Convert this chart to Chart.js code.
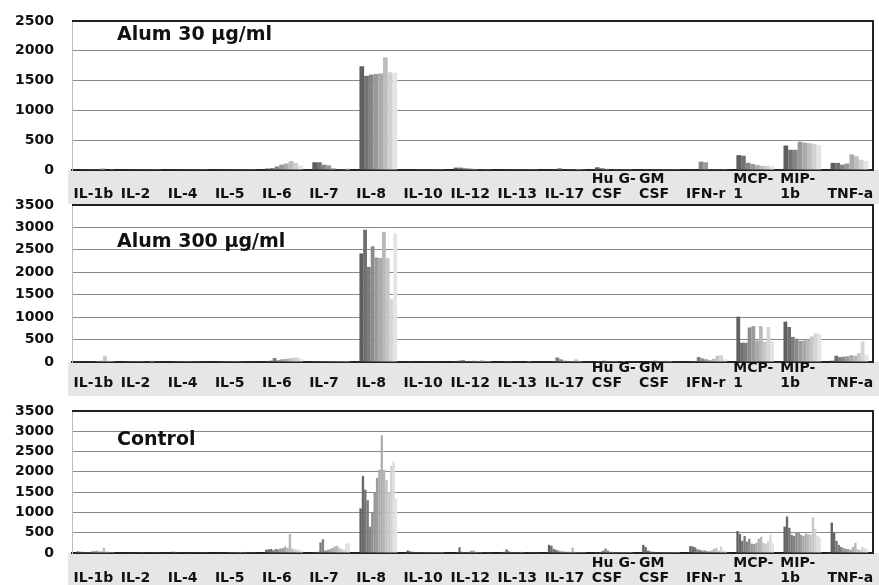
<!DOCTYPE html>
<html>
<head>
<meta charset="utf-8">
<script src="https://cdn.jsdelivr.net/npm/chart.js@4.4.1/dist/chart.umd.min.js"></script>
<style>
body { margin: 0; background: #fff; width: 879px; height: 585px; overflow: hidden; position: relative; }
canvas { position: absolute; left: 0; }
.title { position: absolute; left: 117px; font: bold 19px "DejaVu Sans"; line-height: 22px; color: #111; z-index: 5; }
</style>
</head>
<body>
<canvas id="c1" width="879" height="204" style="top:0px"></canvas>
<canvas id="c2" width="879" height="206" style="top:190px"></canvas>
<canvas id="c3" width="879" height="189" style="top:396px"></canvas>
<div class="title" style="top:22px">Alum 30 µg/ml</div>
<div class="title" style="top:229px">Alum 300 µg/ml</div>
<div class="title" style="top:427px">Control</div>
<script>
// cytokine names, split in two lines like the original axis
const tickLabels = [
    ['', 'IL-1b'], ['', 'IL-2'], ['', 'IL-4'], ['', 'IL-5'], ['', 'IL-6'], ['', 'IL-7'],
    ['', 'IL-8'], ['', 'IL-10'], ['', 'IL-12'], ['', 'IL-13'], ['', 'IL-17'],
    ['Hu G-', 'CSF'], ['GM', 'CSF'], ['', 'IFN-r'], ['MCP-', '1'], ['MIP-', '1b'], ['', 'TNF-a']
];

const yMax30 = 2500;
const yMax300 = 3500;
const yMaxControl = 3500;

// one row per cytokine, one value per sample
const alum30 = [
    [8, 5, 5, 5, 5, 30, 8, 5],
    [5, 5, 5, 5, 5, 5, 5, 5],
    [5, 5, 5, 5, 5, 5, 5, 5],
    [5, 5, 5, 5, 5, 5, 5, 5],
    [25, 30, 60, 90, 110, 150, 120, 70],
    [130, 130, 90, 80, 30, 10, 5, 30],
    [1740, 1580, 1600, 1610, 1620, 1890, 1640, 1630],
    [10, 8, 5, 5, 5, 5, 5, 5],
    [40, 40, 30, 25, 20, 10, 5, 5],
    [5, 5, 5, 5, 5, 5, 5, 5],
    [10, 5, 30, 10, 5, 5, 20, 5],
    [45, 30, 20, 10, 5, 5, 5, 5],
    [5, 5, 5, 5, 5, 5, 5, 5],
    [5, 10, 140, 130, 5, 5, 5, 5],
    [250, 240, 120, 100, 80, 70, 70, 60],
    [410, 340, 340, 475, 460, 450, 440, 420],
    [120, 120, 90, 110, 260, 230, 170, 150]
];

const alum300 = [
    [20, 10, 10, 10, 10, 20, 30, 130, 30, 20],
    [20, 20, 20, 20, 20, 15, 10, 30, 10, 10],
    [20, 20, 20, 20, 20, 20, 15, 15, 10, 10],
    [20, 20, 20, 20, 20, 20, 15, 10, 10, 10],
    [20, 30, 90, 40, 60, 70, 80, 90, 100, 70],
    [20, 20, 20, 20, 20, 20, 20, 20, 20, 20],
    [2420, 2950, 2120, 2580, 2330, 2320, 2900, 2320, 1400, 2870],
    [20, 15, 10, 10, 10, 10, 10, 10, 10, 10],
    [20, 30, 40, 20, 20, 30, 20, 40, 20, 20],
    [10, 20, 20, 10, 10, 10, 10, 20, 10, 10],
    [10, 20, 100, 60, 30, 20, 20, 60, 20, 10],
    [20, 20, 30, 20, 20, 20, 10, 20, 10, 10],
    [10, 10, 20, 30, 20, 20, 30, 20, 10, 10],
    [20, 20, 110, 80, 60, 40, 70, 140, 150, 60],
    [1010, 430, 430, 770, 800, 480, 800, 450, 780, 470],
    [900, 780, 560, 520, 470, 480, 500, 570, 640, 620],
    [30, 140, 110, 120, 130, 150, 140, 200, 460, 160]
];

const control = [
    [40, 30, 30, 20, 20, 20, 40, 50, 60, 40, 40, 130, 40, 30, 20, 20],
    [10, 10, 10, 10, 10, 10, 10, 20, 10, 10, 10, 10, 10, 10, 10, 10],
    [30, 30, 20, 10, 10, 10, 10, 10, 10, 10, 10, 10, 10, 10, 10, 10],
    [10, 10, 10, 10, 20, 20, 20, 20, 20, 30, 20, 20, 10, 10, 10, 10],
    [80, 90, 100, 70, 100, 90, 110, 120, 160, 120, 470, 110, 90, 80, 80, 60],
    [20, 20, 30, 260, 340, 60, 80, 90, 120, 160, 180, 130, 90, 80, 220, 250],
    [1100, 1900, 1560, 1300, 650, 1000, 1500, 1850, 2050, 2900, 2050, 1800, 1500, 2150, 2250, 1350],
    [60, 40, 30, 20, 20, 20, 20, 20, 20, 20, 20, 20, 20, 20, 20, 20],
    [10, 20, 140, 30, 20, 20, 30, 60, 60, 30, 20, 20, 10, 10, 10, 10],
    [20, 30, 90, 40, 20, 20, 20, 20, 30, 20, 10, 10, 10, 10, 10, 10],
    [200, 180, 100, 80, 60, 40, 40, 30, 30, 30, 130, 30, 20, 20, 20, 20],
    [20, 20, 30, 60, 110, 60, 30, 30, 20, 20, 20, 20, 20, 20, 20, 20],
    [200, 150, 60, 40, 30, 20, 20, 20, 20, 20, 20, 20, 20, 20, 20, 20],
    [170, 160, 140, 90, 80, 60, 70, 50, 40, 60, 100, 130, 60, 160, 70, 50],
    [540, 470, 300, 420, 280, 350, 230, 220, 250, 350, 400, 250, 230, 300, 450, 250],
    [650, 900, 620, 450, 420, 500, 520, 450, 420, 480, 460, 450, 880, 600, 420, 380],
    [750, 500, 300, 200, 150, 120, 100, 100, 80, 150, 250, 100, 80, 150, 120, 100]
];

// gray label band under the plot and the dark frame on top/right
const framePlugin = {
    id: 'frame',
    beforeDraw(chart) {
        const ctx = chart.ctx, a = chart.chartArea;
        ctx.save();
        ctx.fillStyle = '#e6e6e6';
        ctx.fillRect(a.left - 4, a.bottom, chart.width - a.left + 4, chart.height - a.bottom);
        ctx.restore();
    },
    afterDraw(chart) {
        const ctx = chart.ctx, a = chart.chartArea;
        ctx.save();
        ctx.strokeStyle = '#222';
        ctx.lineWidth = 2;
        ctx.beginPath();
        ctx.moveTo(a.left, a.top);
        ctx.lineTo(a.right, a.top);
        ctx.lineTo(a.right, a.bottom);
        ctx.stroke();
        ctx.restore();
    }
};

function grayShade(i, n)
{
    const v = Math.round(95 + (228 - 95) * i / (n - 1));
    return 'rgb(' + v + ',' + v + ',' + v + ')';
}

function makePanel(id, rows, yMax, padTop, padBottom, labelPad)
{
    const n = rows[0].length;
    const datasets = [];
    for (let s = 0; s < n; s++) {
        datasets.push({
            label: 'sample ' + (s + 1),
            data: rows.map(r => r[s]),
            backgroundColor: grayShade(s, n),
            borderWidth: 0,
            barPercentage: 1.0,
            categoryPercentage: 0.8
        });
    }

    return new Chart(document.getElementById(id).getContext('2d'), {
        type: 'bar',
        data: { labels: tickLabels, datasets: datasets },
        plugins: [framePlugin],
        options: {
            responsive: false,
            animation: false,
            layout: { padding: { top: padTop, right: 6, bottom: padBottom, left: 0 } },
            plugins: { legend: { display: false }, tooltip: { enabled: false } },
            scales: {
                x: {
                    grid: { display: false },
                    border: { display: true, color: '#222', width: 2 },
                    ticks: {
                        autoSkip: false,
                        maxRotation: 0,
                        align: 'start',
                        labelOffset: -22,
                        padding: labelPad,
                        color: '#111',
                        font: { family: 'DejaVu Sans', weight: 'bold', size: 14, lineHeight: 1.07 }
                    },
                    afterFit: s => { s.height = 32; s.paddingLeft = 0; s.paddingRight = 0; }
                },
                y: {
                    min: 0,
                    max: yMax,
                    grid: { color: '#8a8a8a', drawTicks: false },
                    border: { display: true, color: '#bbb' },
                    ticks: {
                        stepSize: 500,
                        padding: 18,
                        color: '#111',
                        font: { family: 'DejaVu Sans', weight: 'bold', size: 14 },
                        callback: v => String(v)
                    },
                    afterFit: s => { s.width = 72; s.paddingTop = 0; s.paddingBottom = 0; }
                }
            }
        }
    });
}

makePanel('c1', alum30, yMax30, 21, 2, -6);
makePanel('c2', alum300, yMax300, 15, 2, -9);
makePanel('c3', control, yMaxControl, 15, 0, -5);
</script>
</body>
</html>
